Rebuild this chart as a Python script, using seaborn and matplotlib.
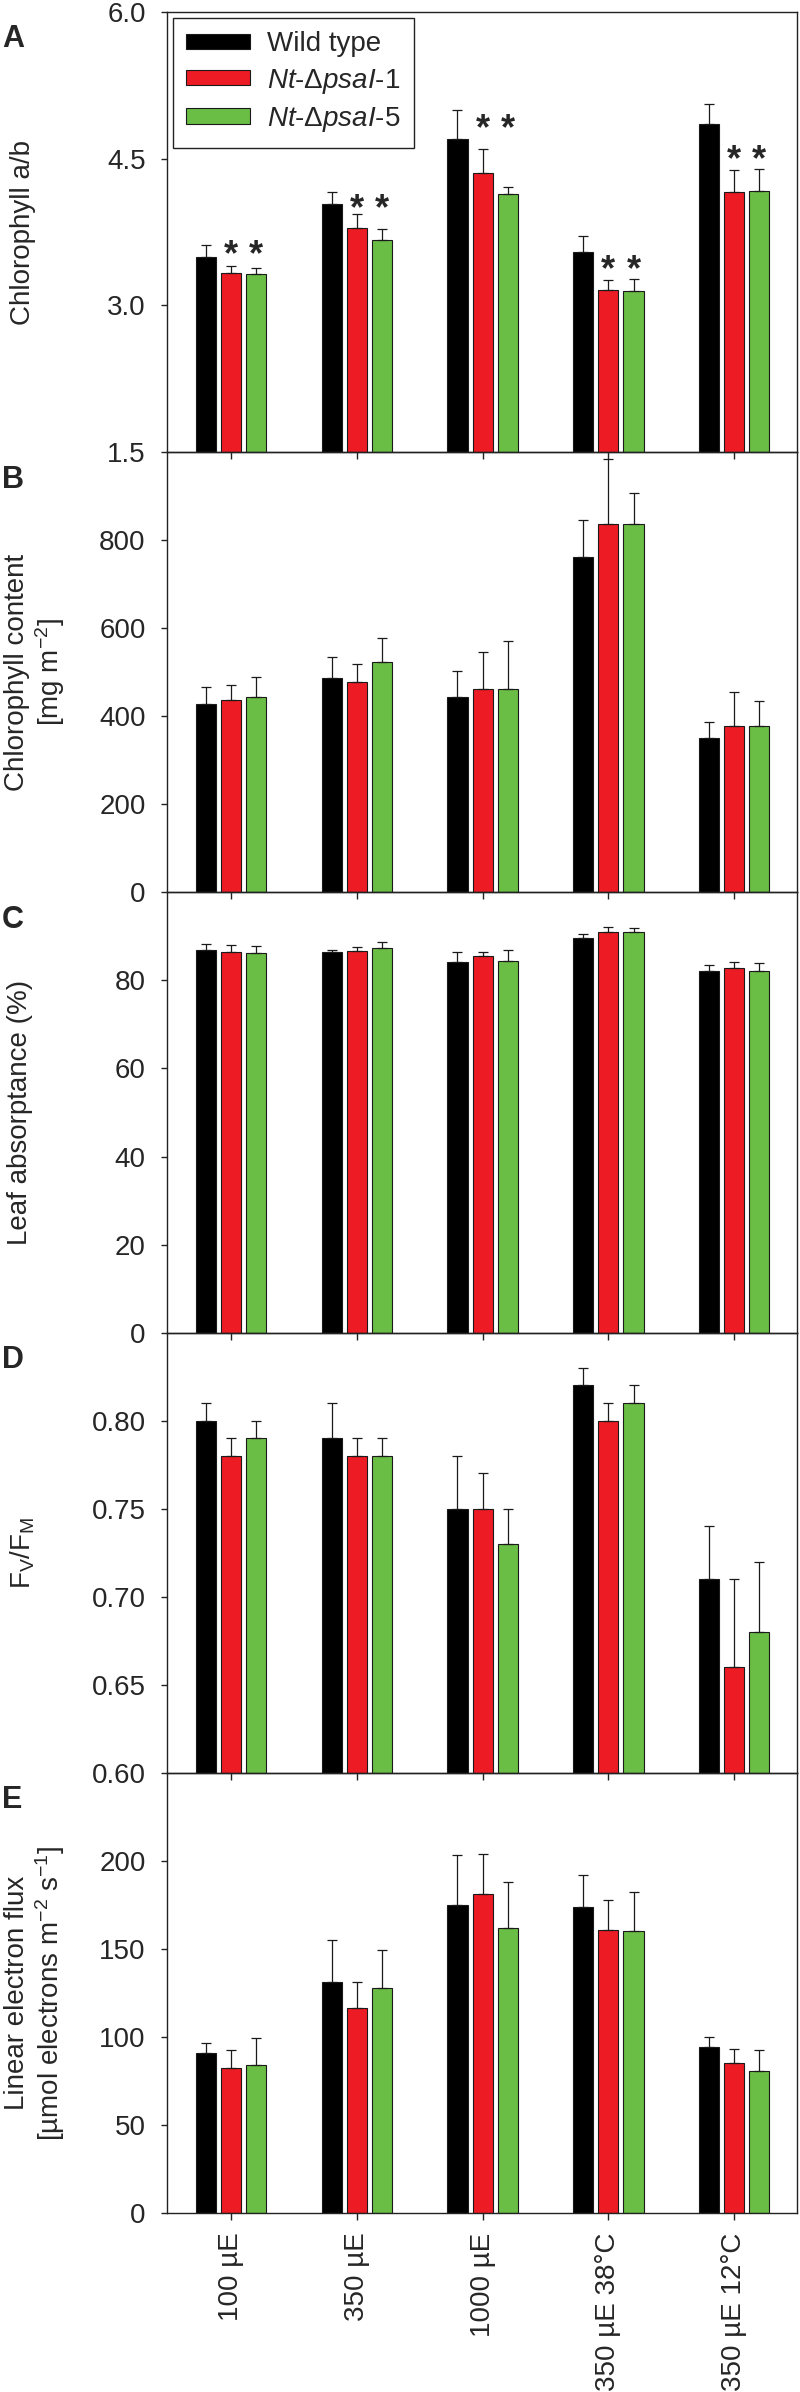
import numpy as np
import pandas as pd
import matplotlib
matplotlib.use("Agg")
import matplotlib.pyplot as plt
import seaborn as sns

# categories
conditions = ["100 µE", "350 µE", "1000 µE", "350 µE 38°C", "350 µE 12°C"]
genotypes = ["Wild type", "Nt-ΔpsaI-1", "Nt-ΔpsaI-5"]
legend_labels = ["Wild type",
                 r"$\mathit{Nt}$-$\mathit{\Delta psaI}$-1",
                 r"$\mathit{Nt}$-$\mathit{\Delta psaI}$-5"]
colors = ["#000000", "#ED1C24", "#6ABD45"]

# A: chlorophyll a/b
chl_ab_wt = [3.50, 4.04, 4.70, 3.55, 4.85]
chl_ab_wt_sd = [0.12, 0.12, 0.30, 0.16, 0.21]
chl_ab_m1 = [3.33, 3.79, 4.35, 3.16, 4.16]
chl_ab_m1_sd = [0.07, 0.15, 0.25, 0.10, 0.22]
chl_ab_m5 = [3.32, 3.67, 4.14, 3.15, 4.17]
chl_ab_m5_sd = [0.06, 0.11, 0.07, 0.12, 0.23]
star_y = [3.64, 4.11, 4.92, 3.48, 4.61]

# B: chlorophyll content
chl_wt = [427, 486, 445, 762, 350]
chl_wt_sd = [39, 49, 57, 83, 38]
chl_m1 = [436, 477, 463, 838, 378]
chl_m1_sd = [35, 42, 83, 146, 77]
chl_m5 = [445, 524, 462, 836, 377]
chl_m5_sd = [45, 54, 110, 72, 57]

# C: leaf absorptance
abs_wt = [87.0, 86.5, 84.3, 89.7, 82.2]
abs_wt_sd = [1.2, 0.5, 2.1, 0.8, 1.4]
abs_m1 = [86.5, 86.8, 85.5, 91.0, 82.8]
abs_m1_sd = [1.6, 0.9, 1.0, 1.1, 1.3]
abs_m5 = [86.3, 87.3, 84.5, 90.9, 82.2]
abs_m5_sd = [1.6, 1.5, 2.5, 0.9, 1.8]

# D: Fv/Fm
fvfm_wt = [0.80, 0.79, 0.75, 0.82, 0.71]
fvfm_wt_sd = [0.01, 0.02, 0.03, 0.01, 0.03]
fvfm_m1 = [0.78, 0.78, 0.75, 0.80, 0.66]
fvfm_m1_sd = [0.01, 0.01, 0.02, 0.01, 0.05]
fvfm_m5 = [0.79, 0.78, 0.73, 0.81, 0.68]
fvfm_m5_sd = [0.01, 0.01, 0.02, 0.01, 0.04]

# E: linear electron flux
lef_wt = [90.7, 131.4, 175.2, 174.0, 94.1]
lef_wt_sd = [6.1, 23.7, 28.0, 18.0, 5.9]
lef_m1 = [82.5, 116.6, 181.3, 160.6, 85.4]
lef_m1_sd = [9.8, 14.8, 22.6, 17.1, 7.8]
lef_m5 = [84.1, 127.6, 161.7, 159.9, 80.4]
lef_m5_sd = [15.4, 21.8, 26.5, 22.3, 11.9]

# axis ticks
ticks_a = [1.5, 3.0, 4.5, 6.0]
ticks_b = [0, 200, 400, 600, 800]
ticks_c = [0, 20, 40, 60, 80]
ticks_d = [0.60, 0.65, 0.70, 0.75, 0.80]
ticks_e = [0, 50, 100, 150, 200]

sns.set_style("ticks")
plt.rcParams.update({
    "font.family": ["Liberation Sans", "DejaVu Sans"],
    "mathtext.fontset": "custom",
    "mathtext.rm": "Liberation Sans",
    "mathtext.it": "Liberation Sans:italic",
    "mathtext.bf": "Liberation Sans:bold",
    "mathtext.default": "regular",
    "axes.edgecolor": "#222222",
    "axes.linewidth": 1.0,
})

FS = 20
DARK = "#1a1a1a"

panels = [
    dict(means=[chl_ab_wt, chl_ab_m1, chl_ab_m5], sds=[chl_ab_wt_sd, chl_ab_m1_sd, chl_ab_m5_sd],
         ylim=(1.5, 6.0), ticks=ticks_a, fmt="{:.1f}", ylabel="Chlorophyll a/b", lx=-0.208, letter="A"),
    dict(means=[chl_wt, chl_m1, chl_m5], sds=[chl_wt_sd, chl_m1_sd, chl_m5_sd],
         ylim=(0, 1000), ticks=ticks_b, fmt="{:.0f}",
         ylabel="Chlorophyll content\n[mg m$^{-2}$]", lx=-0.158, letter="B"),
    dict(means=[abs_wt, abs_m1, abs_m5], sds=[abs_wt_sd, abs_m1_sd, abs_m5_sd],
         ylim=(0, 100), ticks=ticks_c, fmt="{:.0f}", ylabel="Leaf absorptance (%)", lx=-0.212, letter="C"),
    dict(means=[fvfm_wt, fvfm_m1, fvfm_m5], sds=[fvfm_wt_sd, fvfm_m1_sd, fvfm_m5_sd],
         ylim=(0.60, 0.85), ticks=ticks_d, fmt="{:.2f}",
         ylabel=r"F$_{V}$/F$_{M}$", lx=-0.206, letter="D"),
    dict(means=[lef_wt, lef_m1, lef_m5], sds=[lef_wt_sd, lef_m1_sd, lef_m5_sd],
         ylim=(0, 250), ticks=ticks_e, fmt="{:.0f}",
         ylabel="Linear electron flux\n[µmol electrons m$^{-2}$ s$^{-1}$]", lx=-0.158, letter="E"),
]

fig = plt.figure(figsize=(8, 23.92), dpi=100)
left, width = 167 / 800, 630 / 800
top_px, h_px = 12, 440.2
H = 2392

axes, bar_sets = [], []
for i, p in enumerate(panels):
    bottom = 1 - (top_px + (i + 1) * h_px) / H
    ax = fig.add_axes([left, bottom, width, h_px / H])
    ax.patch.set_visible(False)  # let the ticks of the panel above show through
    axes.append(ax)

    df = pd.DataFrame({
        "condition": conditions * len(genotypes),
        "genotype": np.repeat(genotypes, len(conditions)),
        "value": np.concatenate(p["means"]),
    })
    sns.barplot(data=df, x="condition", y="value", hue="genotype",
                order=conditions, hue_order=genotypes,
                palette=dict(zip(genotypes, colors)), saturation=1,
                width=0.6, gap=0.2, edgecolor=DARK, linewidth=0.8,
                errorbar=None, legend=(i == 0), ax=ax)
    bars = list(ax.containers)
    bar_sets.append(bars)

    for cont, sd in zip(bars, p["sds"]):
        xs = [b.get_x() + b.get_width() / 2 for b in cont]
        ys = [b.get_height() for b in cont]
        ax.errorbar(xs, ys, yerr=[np.zeros(len(sd)), sd], fmt="none",
                    ecolor=DARK, elinewidth=0.9, capsize=3.3, capthick=0.9)

    ax.set_xlim(-0.51, 4.5)
    ax.set_ylim(*p["ylim"])
    ax.set_yticks(p["ticks"])
    ax.set_yticklabels([p["fmt"].format(t) for t in p["ticks"]])
    ax.set_xlabel("")
    ax.set_ylabel(p["ylabel"], fontsize=FS, linespacing=1.15)
    ax.yaxis.set_label_coords(p["lx"], 0.5)
    ax.tick_params(axis="y", direction="out", length=4.3, width=1.0, color="#222222",
                   labelsize=FS, pad=11)
    ax.tick_params(axis="x", direction="out", length=5, width=1.0, color="#222222",
                   labelsize=FS, pad=9)
    if i < len(panels) - 1:
        ax.tick_params(axis="x", labelbottom=False)
    else:
        ax.tick_params(axis="x", labelrotation=90)
    for s in ax.spines.values():
        s.set_zorder(5)
    ax.text(-0.262, 0.972, p["letter"], transform=ax.transAxes, ha="left", va="top",
            fontsize=22, fontweight="bold")

# asterisks and legend in panel A
ax = axes[0]
for cont in bar_sets[0][1:]:
    for b, y in zip(cont, star_y):
        ax.annotate("*", (b.get_x() + b.get_width() / 2, y), xytext=(0, -6),
                    textcoords="offset points", ha="center", va="center_baseline",
                    fontsize=26, fontweight="bold")
handles, _ = ax.get_legend_handles_labels()
leg = ax.legend(handles, legend_labels, loc="upper left", bbox_to_anchor=(0, 1),
                borderaxespad=0.2, fontsize=FS, frameon=True, fancybox=False,
                edgecolor="#222222", framealpha=1, handlelength=2.3, handleheight=0.47,
                handletextpad=0.6, labelspacing=0.33, borderpad=0.5)
leg.get_frame().set_linewidth(1.0)

fig.savefig("out.png", dpi=100)
